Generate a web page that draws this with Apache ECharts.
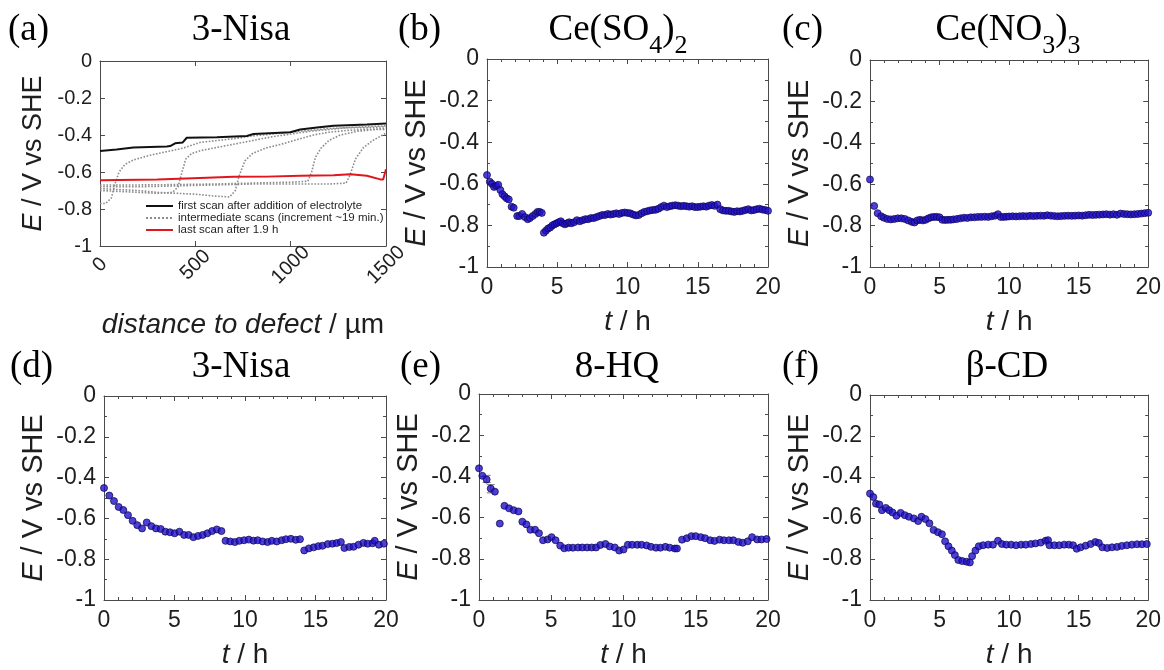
<!DOCTYPE html>
<html><head><meta charset="utf-8">
<script src="https://cdn.jsdelivr.net/npm/echarts@6/dist/echarts.min.js"></script>
<style>html,body{margin:0;padding:0;background:#fff}#c{width:1164px;height:670px}</style>
</head><body><div id="c"></div>
<script>
// ---------- Panel (a): line scans, [distance µm, E V] ----------
const scanFirst = [[0,-0.486],[87,-0.478],[175,-0.468],[262,-0.465],[350,-0.462],[368,-0.46],[394,-0.445],[434,-0.44],[455,-0.415],[613,-0.412],[770,-0.405],[805,-0.395],[998,-0.385],[1050,-0.37],[1138,-0.36],[1225,-0.35],[1400,-0.343],[1500,-0.338]];
const scanLast = [[0,-0.645],[300,-0.64],[525,-0.632],[700,-0.626],[875,-0.625],[1050,-0.62],[1225,-0.617],[1313,-0.612],[1400,-0.62],[1470,-0.64],[1485,-0.64],[1500,-0.585]];
const scanMid1 = [[0,-0.77],[30,-0.77],[60,-0.74],[80,-0.66],[100,-0.6],[130,-0.56],[175,-0.535],[260,-0.51],[350,-0.49],[440,-0.47],[525,-0.44],[613,-0.43],[700,-0.42],[800,-0.405],[900,-0.395],[1000,-0.385],[1100,-0.375],[1200,-0.365],[1300,-0.36],[1400,-0.355],[1500,-0.35]];
const scanMid2 = [[0,-0.70],[100,-0.705],[200,-0.71],[300,-0.715],[380,-0.71],[410,-0.68],[430,-0.6],[450,-0.53],[480,-0.5],[525,-0.485],[600,-0.47],[700,-0.45],[800,-0.43],[900,-0.41],[1000,-0.395],[1100,-0.38],[1200,-0.37],[1300,-0.36],[1400,-0.36],[1500,-0.355]];
const scanMid3 = [[0,-0.69],[100,-0.695],[200,-0.70],[300,-0.71],[400,-0.715],[500,-0.72],[600,-0.73],[680,-0.735],[710,-0.70],[730,-0.62],[760,-0.54],[800,-0.5],[870,-0.47],[950,-0.45],[1050,-0.42],[1120,-0.40],[1200,-0.385],[1300,-0.375],[1400,-0.37],[1500,-0.365]];
const scanMid4 = [[0,-0.67],[200,-0.67],[400,-0.668],[600,-0.665],[800,-0.66],[1000,-0.655],[1090,-0.65],[1110,-0.6],[1130,-0.52],[1160,-0.47],[1200,-0.43],[1260,-0.40],[1350,-0.38],[1450,-0.37],[1500,-0.37]];
const scanMid5 = [[0,-0.68],[200,-0.68],[400,-0.675],[600,-0.67],[800,-0.665],[1000,-0.665],[1200,-0.665],[1290,-0.66],[1310,-0.62],[1340,-0.53],[1380,-0.47],[1430,-0.43],[1500,-0.39]];

// ---------- Panels (b)-(f): [t h, E V] ----------
const ceSO4 = [[0,-0.558],[0.2,-0.59],[0.35,-0.60],[0.5,-0.615],[0.65,-0.61],[0.8,-0.605],[0.95,-0.63],[1.1,-0.65],[1.25,-0.66],[1.4,-0.67],[1.55,-0.675],[1.75,-0.71],[1.9,-0.715],[2.15,-0.755],[2.3,-0.755],[2.5,-0.745],[2.7,-0.76],[2.9,-0.77],[3.05,-0.765],[3.25,-0.755],[3.45,-0.745],[3.6,-0.735],[3.75,-0.735],[3.9,-0.74],
[4.05,-0.835],[4.2,-0.825],[4.35,-0.815],[4.5,-0.81],[4.65,-0.80],[4.8,-0.795],[4.95,-0.79],[5.1,-0.785],[5.25,-0.78],[5.4,-0.79],[5.55,-0.795],[5.7,-0.79],[5.85,-0.785],[6.0,-0.79],[6.2,-0.785],[6.4,-0.775],[6.6,-0.78],[6.8,-0.775],[7.0,-0.77],[7.2,-0.77],[7.4,-0.765],[7.6,-0.765],[7.8,-0.76],[8.0,-0.755],[8.2,-0.75],[8.4,-0.75],[8.6,-0.745],[8.8,-0.748],[9.0,-0.745],[9.2,-0.742],[9.4,-0.745],[9.6,-0.74],[9.8,-0.738],[10.0,-0.74],[10.2,-0.742],[10.4,-0.748],[10.6,-0.752],[10.8,-0.75],[11.0,-0.742],[11.2,-0.735],[11.4,-0.732],[11.6,-0.728],[11.8,-0.726],[12.0,-0.725],[12.2,-0.72],[12.4,-0.712],[12.6,-0.705],[12.8,-0.712],[13.0,-0.708],[13.2,-0.705],[13.4,-0.703],[13.6,-0.705],[13.8,-0.708],[14.0,-0.706],[14.2,-0.708],[14.4,-0.71],[14.6,-0.708],[14.8,-0.712],[15.0,-0.712],[15.2,-0.71],[15.4,-0.708],[15.6,-0.71],[15.8,-0.705],[16.0,-0.702],[16.2,-0.706],[16.4,-0.70],[16.6,-0.722],[16.8,-0.728],[17.0,-0.73],[17.2,-0.73],[17.4,-0.733],[17.6,-0.735],[17.8,-0.732],[18.0,-0.733],[18.2,-0.73],[18.4,-0.726],[18.6,-0.722],[18.8,-0.728],[19.0,-0.726],[19.2,-0.722],[19.4,-0.72],[19.6,-0.724],[19.8,-0.726],[20.0,-0.73]];

const ceNO3 = [[0,-0.577],[0.3,-0.705],[0.55,-0.74],[0.8,-0.755],[1.0,-0.762],[1.25,-0.768],[1.5,-0.77],[1.75,-0.768],[2.0,-0.765],[2.25,-0.765],[2.5,-0.768],[2.75,-0.775],[3.0,-0.782],[3.2,-0.785],[3.4,-0.775],[3.6,-0.772],[3.8,-0.775],[4.0,-0.772],[4.2,-0.765],[4.4,-0.76],[4.6,-0.758],[4.8,-0.758],[5.0,-0.76],[5.2,-0.772],[5.4,-0.773],[5.6,-0.772],[5.8,-0.772],[6.0,-0.77],[6.25,-0.768],[6.5,-0.765],[6.75,-0.762],[7.0,-0.763],[7.25,-0.76],[7.5,-0.76],[7.75,-0.758],[8.0,-0.758],[8.25,-0.757],[8.5,-0.758],[8.75,-0.755],[9.0,-0.752],[9.2,-0.745],[9.4,-0.758],[9.6,-0.758],[9.8,-0.757],[10.0,-0.756],[10.25,-0.755],[10.5,-0.756],[10.75,-0.755],[11.0,-0.754],[11.25,-0.755],[11.5,-0.753],[11.75,-0.754],[12.0,-0.753],[12.25,-0.752],[12.5,-0.753],[12.75,-0.75],[13.0,-0.752],[13.25,-0.754],[13.5,-0.755],[13.75,-0.754],[14.0,-0.753],[14.25,-0.752],[14.5,-0.753],[14.75,-0.752],[15.0,-0.751],[15.25,-0.752],[15.5,-0.75],[15.75,-0.748],[16.0,-0.749],[16.25,-0.748],[16.5,-0.747],[16.75,-0.746],[17.0,-0.745],[17.25,-0.747],[17.5,-0.745],[17.75,-0.748],[18.0,-0.742],[18.25,-0.744],[18.5,-0.745],[18.75,-0.746],[19.0,-0.745],[19.25,-0.744],[19.5,-0.742],[19.75,-0.74],[20.0,-0.738]];

const nisa = [[0,-0.451],[0.38,-0.488],[0.71,-0.515],[1.04,-0.544],[1.37,-0.559],[1.7,-0.584],[2.03,-0.612],[2.36,-0.633],[2.7,-0.649],[3.03,-0.62],[3.36,-0.638],[3.69,-0.649],[4.02,-0.652],[4.35,-0.665],[4.68,-0.668],[5.01,-0.673],[5.35,-0.665],[5.68,-0.681],[6.0,-0.681],[6.34,-0.692],[6.67,-0.686],[7.0,-0.681],[7.33,-0.673],[7.67,-0.662],[8.0,-0.654],[8.33,-0.662],
[8.62,-0.71],[8.95,-0.713],[9.28,-0.716],[9.6,-0.71],[9.94,-0.707],[10.27,-0.704],[10.6,-0.709],[10.9,-0.707],[11.25,-0.713],[11.6,-0.716],[11.9,-0.71],[12.25,-0.713],[12.6,-0.707],[12.9,-0.702],[13.25,-0.70],[13.6,-0.705],[13.9,-0.702],
[14.2,-0.757],[14.53,-0.747],[14.87,-0.742],[15.2,-0.736],[15.5,-0.734],[15.87,-0.726],[16.2,-0.724],[16.5,-0.721],[16.8,-0.716],[17.05,-0.745],[17.4,-0.74],[17.7,-0.739],[18.05,-0.729],[18.4,-0.72],[18.7,-0.724],[19.05,-0.722],[19.2,-0.71],[19.5,-0.729],[19.85,-0.724]];

const hq8 = [[0,-0.361],[0.23,-0.397],[0.53,-0.415],[0.81,-0.459],[1.1,-0.474],[1.44,-0.629],[1.76,-0.543],[2.08,-0.555],[2.4,-0.564],[2.73,-0.57],[3.0,-0.62],[3.28,-0.633],[3.56,-0.659],[3.88,-0.659],[4.15,-0.676],[4.43,-0.71],[4.75,-0.706],[5.02,-0.695],[5.3,-0.71],[5.62,-0.736],[5.9,-0.749],[6.2,-0.746],[6.5,-0.746],[6.85,-0.745],[7.15,-0.745],[7.48,-0.745],[7.8,-0.745],[8.1,-0.745],[8.4,-0.733],[8.75,-0.728],[9.05,-0.74],[9.4,-0.745],[9.7,-0.76],[10.0,-0.755],[10.3,-0.732],[10.6,-0.732],[10.95,-0.732],[11.25,-0.732],[11.6,-0.735],[11.9,-0.742],[12.25,-0.746],[12.55,-0.746],[12.9,-0.742],[13.2,-0.746],[13.55,-0.75],[13.7,-0.75],
[14.05,-0.707],[14.38,-0.70],[14.7,-0.69],[15.0,-0.69],[15.35,-0.695],[15.65,-0.70],[16.0,-0.71],[16.3,-0.713],[16.65,-0.707],[16.95,-0.71],[17.3,-0.71],[17.6,-0.71],[17.95,-0.718],[18.25,-0.722],[18.6,-0.715],[18.9,-0.695],[19.25,-0.706],[19.55,-0.706],[19.9,-0.704]];
const hq8Err = [[0.53,-0.395,-0.43],[0.81,-0.44,-0.48]];

const betaCD = [[0,-0.481],[0.24,-0.498],[0.43,-0.53],[0.67,-0.534],[0.86,-0.562],[1.14,-0.551],[1.38,-0.562],[1.62,-0.573],[1.9,-0.589],[2.2,-0.575],[2.5,-0.586],[2.8,-0.594],[3.15,-0.602],[3.46,-0.615],[3.7,-0.594],[3.98,-0.605],[4.27,-0.626],[4.57,-0.658],[4.88,-0.669],[5.17,-0.679],[5.4,-0.714],[5.64,-0.738],[5.88,-0.759],[6.1,-0.781],[6.35,-0.805],[6.63,-0.81],[6.94,-0.813],[7.18,-0.817],[7.34,-0.786],[7.58,-0.759],[7.82,-0.738],[8.13,-0.733],[8.5,-0.73],[8.84,-0.73],[9.2,-0.711],[9.48,-0.727],[9.8,-0.73],[10.15,-0.73],[10.5,-0.733],[10.86,-0.73],[11.2,-0.73],[11.57,-0.727],[11.9,-0.724],[12.27,-0.72],[12.62,-0.711],[12.8,-0.708],[12.9,-0.733],[13.25,-0.733],[13.6,-0.733],[13.96,-0.73],[14.3,-0.73],[14.6,-0.733],[14.86,-0.75],[15.14,-0.743],[15.5,-0.735],[15.86,-0.727],[16.2,-0.717],[16.45,-0.722],[16.7,-0.743],[17.05,-0.746],[17.4,-0.743],[17.76,-0.741],[18.1,-0.736],[18.47,-0.733],[18.83,-0.73],[19.2,-0.728],[19.55,-0.728],[19.9,-0.727]];

// ---------- labels ----------
const panelLetters = ['(a)','(b)','(c)','(d)','(e)','(f)'];
const legendNames = ['first scan after addition of electrolyte','intermediate scans (increment ~19 min.)','last scan after 1.9 h'];
const timeTicks = {min:0, max:20, interval:5};
const distTicks = {min:0, max:1500, interval:500};
const potTicks = {min:-1, max:0, interval:0.2};

// ---------- styling / layout ----------
const SANS = '"Liberation Sans", Arial, sans-serif';
const SERIF = '"Liberation Serif", "Times New Roman", serif';
const AX = '#4a4a4a';
const TXT = '#1e1e1e';
const grids = [
  {left:100, top:61, width:286, height:185},
  {left:487, top:59, width:281, height:208},
  {left:870, top:60, width:282, height:207},
  {left:104, top:396, width:282, height:207},
  {left:479, top:394, width:289, height:215},
  {left:870, top:395, width:281, height:208}
];

const xAxes = [], yAxes = [];
function addAxes(gi, xr, minor, labFont, xName, xNameGap, rot) {
  const tick = {inside:true, length:5, lineStyle:{color:AX, width:1}};
  const line = {show:true, onZero:false, lineStyle:{color:AX, width:1}};
  const xMinor = {show:minor, splitNumber:5, length:3, lineStyle:{color:AX}};
  const yMinor = {show:minor, splitNumber:2, length:3, lineStyle:{color:AX}};
  xAxes.push({
    gridIndex:gi, type:'value', position:'bottom', min:xr.min, max:xr.max, interval:xr.interval,
    axisLine:line, axisTick:tick, minorTick:xMinor, splitLine:{show:false},
    axisLabel: rot ? {fontSize:labFont, fontFamily:SANS, color:TXT, rotate:45, align:'center', verticalAlign:'middle', margin:19,
                      formatter:function(v){ return String(v); }}
                   : {fontSize:labFont, fontFamily:SANS, color:TXT, margin:9},
    name:xName, nameLocation:'middle', nameGap:xNameGap,
    nameTextStyle:{fontSize:28, fontFamily:SANS, color:TXT, rich:{i:{fontSize:28, fontFamily:SANS, fontStyle:'italic', color:TXT}}}
  });
  xAxes.push({
    gridIndex:gi, type:'value', position:'top', min:xr.min, max:xr.max, interval:xr.interval,
    axisLine:line, axisTick:tick, minorTick:xMinor, splitLine:{show:false}, axisLabel:{show:false}
  });
  const yn = rot ? 27 : 29;
  yAxes.push({
    gridIndex:gi, type:'value', position:'left', min:potTicks.min, max:potTicks.max, interval:potTicks.interval,
    axisLine:line, axisTick:tick, minorTick:yMinor, splitLine:{show:false},
    axisLabel:{fontSize:labFont, fontFamily:SANS, color:TXT, margin:8},
    name:'{i|E} / V vs SHE', nameLocation:'middle', nameGap: rot ? 53 : 56,
    nameTextStyle:{fontSize:yn, fontFamily:SANS, color:TXT, rich:{i:{fontSize:yn, fontFamily:SANS, fontStyle:'italic', color:TXT}}}
  });
  yAxes.push({
    gridIndex:gi, type:'value', position:'right', min:potTicks.min, max:potTicks.max, interval:potTicks.interval,
    axisLine:line, axisTick:tick, minorTick:yMinor, splitLine:{show:false}, axisLabel:{show:false}
  });
}
addAxes(0, distTicks, false, 20, '{i|distance to defect} / µm', 65, true);
for (let g = 1; g < 6; g++) addAxes(g, timeTicks, true, 23, '{i|t} / h', 41, false);

const dotStyle = {symbol:'circle', symbolSize:7, itemStyle:{color:'#2010cc', borderColor:'#0c0550', borderWidth:0.9}};
function scat(gi, data) {
  return Object.assign({type:'scatter', xAxisIndex:2*gi, yAxisIndex:2*gi, data:data, silent:true, z:3}, dotStyle);
}
function scanLine(name, data, color, type, width, z) {
  return {type:'line', name:name, xAxisIndex:0, yAxisIndex:0, data:data, symbol:'none', showSymbol:false,
    lineStyle:{color:color, type:type, width:width}, itemStyle:{color:color}, z:z, silent:true, animation:false};
}

const series = [
  scanLine(legendNames[1], scanMid1, '#8c8c8c', 'dotted', 1.6, 2),
  scanLine(legendNames[1], scanMid2, '#8c8c8c', 'dotted', 1.6, 2),
  scanLine(legendNames[1], scanMid3, '#8c8c8c', 'dotted', 1.6, 2),
  scanLine(legendNames[1], scanMid4, '#8c8c8c', 'dotted', 1.6, 2),
  scanLine(legendNames[1], scanMid5, '#8c8c8c', 'dotted', 1.6, 2),
  scanLine(legendNames[0], scanFirst, '#111111', 'solid', 2, 3),
  scanLine(legendNames[2], scanLast, '#e0161c', 'solid', 2, 4),
  scat(1, ceSO4), scat(2, ceNO3), scat(3, nisa), scat(4, hq8), scat(5, betaCD),
  {type:'custom', xAxisIndex:8, yAxisIndex:8, data:hq8Err, silent:true, z:2,
   renderItem:function(params, api){
     const top = api.coord([api.value(0), api.value(1)]);
     const bot = api.coord([api.value(0), api.value(2)]);
     const st = {stroke:'#777', lineWidth:1};
     return {type:'group', children:[
       {type:'line', shape:{x1:top[0], y1:top[1], x2:bot[0], y2:bot[1]}, style:st},
       {type:'line', shape:{x1:top[0]-4, y1:top[1], x2:top[0]+4, y2:top[1]}, style:st},
       {type:'line', shape:{x1:bot[0]-4, y1:bot[1], x2:bot[0]+4, y2:bot[1]}, style:st}
     ]};
   }}
];

// titles
const titleRich = {
  m:{fontSize:37, fontFamily:SERIF, fill:'#000', lineHeight:44},
  s:{fontSize:26, fontFamily:SERIF, fill:'#000', lineHeight:58, verticalAlign:'bottom'}
};
const titleDefs = [
  {txt:'3-Nisa', x:241, y:30}, {txt:'{m|Ce(SO}{s|4}{m|)}{s|2}', x:618, y:30}, {txt:'{m|Ce(NO}{s|3}{m|)}{s|3}', x:1008, y:30},
  {txt:'3-Nisa', x:241, y:367}, {txt:'8-HQ', x:617, y:367}, {txt:'β-CD', x:1007, y:367}
];
const letterPos = [[8,30],[398,30],[782,30],[10,367],[400,367],[782,367]];
const graphic = [];
titleDefs.forEach(function(t){
  const rich = t.txt.indexOf('{') >= 0;
  graphic.push({type:'text', silent:true, style:{
    text: t.txt, x:t.x, y:t.y, align:'center', verticalAlign:'middle',
    fontSize:37, fontFamily:SERIF, fill:'#000', rich: rich ? titleRich : undefined}});
});
panelLetters.forEach(function(l, i){
  graphic.push({type:'text', silent:true, style:{text:l, x:letterPos[i][0], y:letterPos[i][1], align:'left', verticalAlign:'middle',
    fontSize:37, fontFamily:SERIF, fill:'#000'}});
});

const chart = echarts.init(document.getElementById('c'), null, {renderer:'canvas'});
chart.setOption({
  animation:false,
  backgroundColor:'#fff',
  grid: grids.map(function(g){ return Object.assign({containLabel:false}, g); }),
  xAxis: xAxes, yAxis: yAxes,
  legend: {
    data: legendNames, orient:'vertical', left:145, top:200, padding:0, itemWidth:27, itemHeight:14, itemGap:0,
    itemStyle:{color:'rgba(0,0,0,0)', borderColor:'rgba(0,0,0,0)', borderWidth:0, opacity:0},
    textStyle:{fontSize:11.5, fontFamily:SANS, color:TXT}, selectedMode:false
  },
  series: series,
  graphic: graphic
});
</script></body></html>
